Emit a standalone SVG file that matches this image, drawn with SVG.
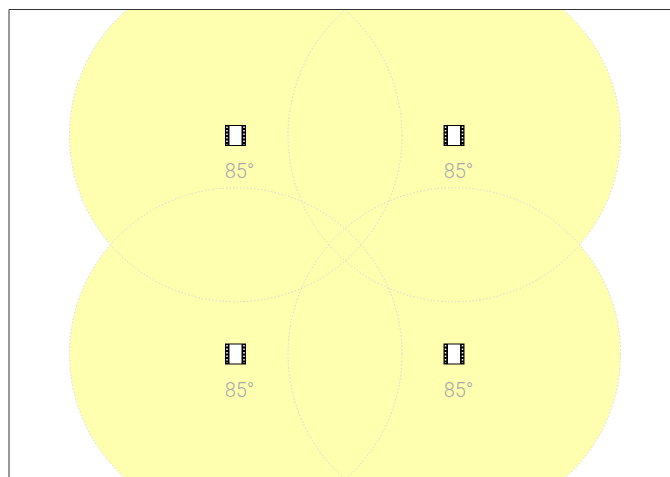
<svg xmlns="http://www.w3.org/2000/svg" width="670" height="477" viewBox="0 0 670 477">
<style>
.fill{fill:#ffffb0}
.ring{fill:none;stroke:#d6d6d6;stroke-width:1;stroke-dasharray:1.500 2}
.lbl{font-family:Roboto,sans-serif;font-weight:300;font-size:20px;fill:#aaaaaa;text-anchor:middle}
.frame{fill:#000}
.film{fill:#fff}
</style>
<defs>
<g id="cam">
<rect class="frame" x="-10.500" y="-10.500" width="21" height="21"/>
<rect class="film" x="-6" y="-9.500" width="12" height="19"/>
<path d="M-8.500-9v18M8.500-9v18" stroke="#fff" stroke-width="1.500" stroke-dasharray="1.500 2" fill="none"/>
</g>
</defs>
<rect width="670" height="477" fill="#fff"/>
<g id="connectors"/>
<g id="coverage-fill">
<circle class="fill" cx="235.800" cy="135.500" r="166.300"/>
<circle class="fill" cx="454.300" cy="135.500" r="166.300"/>
<circle class="fill" cx="235.800" cy="354" r="166.300"/>
<circle class="fill" cx="454.300" cy="354" r="166.300"/>
</g>
<g id="sensor-1"><circle class="ring" cx="235.800" cy="135.500" r="166.300"/></g>
<g id="sensor-2"><circle class="ring" cx="454.300" cy="135.500" r="166.300"/></g>
<g id="sensor-3"><circle class="ring" cx="235.800" cy="354" r="166.300"/></g>
<g id="sensor-4"><circle class="ring" cx="454.300" cy="354" r="166.300"/></g>
<rect x="0" y="0" width="670" height="9" fill="#fff"/>
<rect x="0" y="0" width="8.500" height="477" fill="#fff"/>
<path d="M670 9.500H9V477" fill="none" stroke="#333" stroke-width="1"/>
<g id="cam-1"><use href="#cam" x="235.500" y="135.500"/><text class="lbl" x="239.500" y="177.500">85°</text></g>
<g id="cam-2"><use href="#cam" x="454" y="135.500"/><text class="lbl" x="458.500" y="177.500">85°</text></g>
<g id="cam-3"><use href="#cam" x="235.500" y="354"/><text class="lbl" x="239.500" y="396.500">85°</text></g>
<g id="cam-4"><use href="#cam" x="454" y="354"/><text class="lbl" x="458.500" y="396.500">85°</text></g>
</svg>
